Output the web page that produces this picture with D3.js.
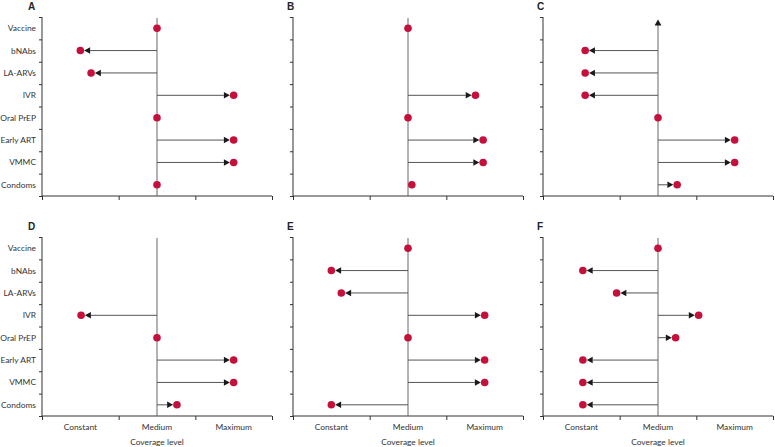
<!DOCTYPE html>
<html>
<head>
<meta charset="utf-8">
<script src="https://cdn.jsdelivr.net/npm/d3@7"></script>
<style>
  body { margin: 0; background: #fff; }
  svg text { font-family: "Lato", "Liberation Sans", sans-serif; fill: #333; }
  .axis path, .axis line { stroke: #333; }
</style>
</head>
<body>
<svg id="chart" width="775" height="447"></svg>
<script>
// interventions, top to bottom
const categories = ["Vaccine", "bNAbs", "LA-ARVs", "IVR", "Oral PrEP", "Early ART", "VMMC", "Condoms"];
const levels = ["Constant", "Medium", "Maximum"];
const panelLetters = ["A", "B", "C", "D", "E", "F"];

// coverage: 0 = constant, 1 = medium, 2 = maximum; null = no dot
const panelA = [1, 0, 0.14, 2, 1, 2, 2, 1];
const panelB = [1, null, null, 1.88, 1, 1.98, 1.98, 1.05];
const panelC = [null, 0.05, 0.05, 0.05, 1, 2, 2, 1.25];
const panelD = [null, null, null, 0.01, 1, 2, 2, 1.26];
const panelE = [1, 0, 0.13, 2, 1, 2, 2, 0];
const panelF = [1, 0.02, 0.46, 1.53, 1.23, 0.02, 0.02, 0.02];
const panels = [panelA, panelB, panelC, panelD, panelE, panelF];

// panel C: vaccine goes off the top of the scale
const upArrowPanels = ["C"];

const svg = d3.select("#chart");
const colX = [42, 293, 543];
const rowY = [17, 237];
const pw = 230, ph = 179;
const dotR = 3.8, headLen = 6, headHalf = 3.2;
const dotColor = "#c4103a";

panels.forEach((vals, i) => {
  const col = i % 3, row = Math.floor(i / 3);
  const g = svg.append("g").attr("transform", `translate(${colX[col]},${rowY[row]})`);

  const x = d3.scaleLinear().domain([-0.5, 2.5]).range([0, pw]);
  const yTicks = d3.scaleLinear().domain([0, categories.length]).range([0, ph]);
  const y = d3.scaleBand().domain(categories).range([0, ph]);

  // panel letter
  svg.append("text")
    .attr("x", colX[col] + (col === 0 ? -14 : -6))
    .attr("y", rowY[row] - 7)
    .style("font-family", "'Liberation Sans', sans-serif")
    .style("font-weight", "bold")
    .style("font-size", "10px")
    .style("fill", "#222")
    .text(panelLetters[i]);

  // y axis: ticks between rows
  g.append("g").attr("class", "axis")
    .call(d3.axisLeft(yTicks).tickValues(d3.range(categories.length + 1)).tickSize(3).tickFormat(""))
    .call(a => a.select(".domain").attr("d", `M0,0V${ph}`));

  // x axis
  g.append("g").attr("class", "axis")
    .attr("transform", `translate(0,${ph})`)
    .call(d3.axisBottom(x).tickValues([-0.5, 0.5, 1.5, 2.5]).tickSize(4).tickFormat(""))
    .call(a => a.select(".domain").attr("d", `M0,0H${pw}`));

  if (col === 0) {
    g.selectAll(".cat").data(categories).join("text")
      .attr("x", -6)
      .attr("y", d => y(d) + y.bandwidth() / 2)
      .attr("dy", "0.35em")
      .attr("text-anchor", "end")
      .style("font-size", "8.4px")
      .text(d => d);
  }

  if (row === 1) {
    g.selectAll(".lvl").data(levels).join("text")
      .attr("x", (d, k) => x(k))
      .attr("y", ph + 14)
      .attr("text-anchor", "middle")
      .style("font-size", "8.4px")
      .text(d => d);
    g.append("text")
      .attr("x", x(1))
      .attr("y", ph + 29)
      .attr("text-anchor", "middle")
      .style("font-size", "8.4px")
      .text("Coverage level");
  }

  // medium reference line
  const up = upArrowPanels.includes(panelLetters[i]);
  g.append("line")
    .attr("x1", x(1)).attr("x2", x(1))
    .attr("y1", up ? 8 : 1).attr("y2", ph)
    .attr("stroke", "#666").attr("stroke-width", 1);
  if (up) {
    const cx = x(1);
    g.append("path")
      .attr("d", `M${cx},2.5L${cx + 3.4},8.5L${cx - 3.4},8.5Z`)
      .attr("fill", "#1a1a1a");
  }

  const pts = categories.map((c, k) => ({ cat: c, v: vals[k] })).filter(d => d.v !== null);

  pts.forEach(d => {
    const cy = y(d.cat) + y.bandwidth() / 2;
    const cx = x(d.v);
    const dir = Math.sign(d.v - 1);
    if (Math.abs(d.v - 1) > 0.1) {
      const tip = cx - dir * dotR;
      const base = tip - dir * headLen;
      g.append("line")
        .attr("x1", x(1)).attr("x2", base)
        .attr("y1", cy).attr("y2", cy)
        .attr("stroke", "#555").attr("stroke-width", 1);
      g.append("path")
        .attr("d", `M${tip},${cy}L${base},${cy - headHalf}L${base},${cy + headHalf}Z`)
        .attr("fill", "#1a1a1a");
    }
  });

  g.selectAll(".dot").data(pts).join("circle")
    .attr("cx", d => x(d.v))
    .attr("cy", d => y(d.cat) + y.bandwidth() / 2)
    .attr("r", dotR)
    .attr("fill", dotColor);
});
</script>
</body>
</html>
